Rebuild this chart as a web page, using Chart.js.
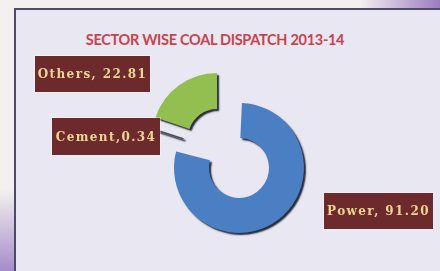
<!DOCTYPE html>
<html><head><meta charset="utf-8">
<script src="https://cdn.jsdelivr.net/npm/chart.js@4.4.1/dist/chart.umd.min.js"></script>
<style>
html,body{margin:0;padding:0;width:440px;height:271px;overflow:hidden;background:#f3f0ef;}
#deco1{position:absolute;left:360px;top:0;width:80px;height:9px;background:linear-gradient(90deg,rgba(170,140,200,0),#9b7bbf);}
#deco2{position:absolute;left:0;top:190px;width:14px;height:81px;background:linear-gradient(180deg,rgba(170,140,200,0),#a58ccb);}
#panel{position:absolute;left:14px;top:8px;width:440px;height:280px;border-top:2px solid #4e4969;border-left:2px solid #4e4969;background:#e9e7f2;}
#title{position:absolute;left:40px;width:350px;top:31px;text-align:center;font:bold 14.5px Lato, sans-serif;letter-spacing:-0.3px;color:#c8434e;white-space:nowrap;}
#c{position:absolute;left:0;top:0;}
.lbl{position:absolute;background:#6d2a2d;color:#ecd593;font:bold 12px 'DejaVu Serif', serif;letter-spacing:1.4px;display:flex;align-items:center;justify-content:center;white-space:nowrap;box-shadow:0 0 0 1px rgba(255,255,255,0.35);}
</style>
</head><body>
<div id="deco1"></div><div id="deco2"></div>
<div id="panel"></div>
<div id="title">SECTOR WISE COAL DISPATCH 2013-14</div>
<canvas id="c" width="440" height="271"></canvas>
<script>
// ---- data ----
const categories = ['Power', 'Cement', 'Others'];
const values = [91.20, 0.34, 22.81];
const separators = [', ', ',', ', '];

// ---- styles / layout (not data) ----
const sliceColors = ['#4b7fc3', '#5e5e6c', '#93bf50'];
const NONE = 'rgba(0,0,0,0)';
const labelBoxes = [
  {left:324, top:193, w:109, h:36},
  {left:52,  top:118, w:108, h:37},
  {left:35,  top:56,  w:115, h:36}
];

const shadowPlugin = {
  id:'shadow',
  beforeDatasetsDraw(chart){const c=chart.ctx;c.save();c.shadowColor='rgba(15,22,35,0.9)';c.shadowOffsetX=2;c.shadowOffsetY=2;c.shadowBlur=1.5;},
  afterDatasetsDraw(chart){chart.ctx.restore();}
};

// Two rings of the same data: the outer one shows the "Others" slice,
// the inner one shows "Power" and "Cement"; each ring is sized so that
// the exploded slices end up with the same visual radius.
new Chart(document.getElementById('c'), {
  type:'doughnut',
  data:{labels:categories, datasets:[
    {data:values, backgroundColor:[NONE, NONE, sliceColors[2]], borderWidth:0,
     offset:[0,0,74], radius:64.1, cutout:'37.6%', weight:9},
    {data:values, backgroundColor:[sliceColors[0], sliceColors[1], NONE],
     borderWidth:[0,1.6,0], borderColor:[NONE,'#4d4d58',NONE],
     offset:[74,72,0], radius:361.5, cutout:'3.181%', weight:1}
  ]},
  options:{
    responsive:false, animation:false, events:[],
    layout:{padding:{left:16,right:0,top:35,bottom:0}},
    plugins:{legend:{display:false}, tooltip:{enabled:false}, title:{display:false}}
  },
  plugins:[shadowPlugin]
});

categories.forEach((cat,i)=>{
  const d=document.createElement('div');
  d.className='lbl';
  const b=labelBoxes[i];
  d.style.left=b.left+'px';d.style.top=b.top+'px';d.style.width=b.w+'px';d.style.height=b.h+'px';
  d.textContent=cat+separators[i]+values[i].toFixed(2);
  document.body.appendChild(d);
});
</script>
</body></html>
